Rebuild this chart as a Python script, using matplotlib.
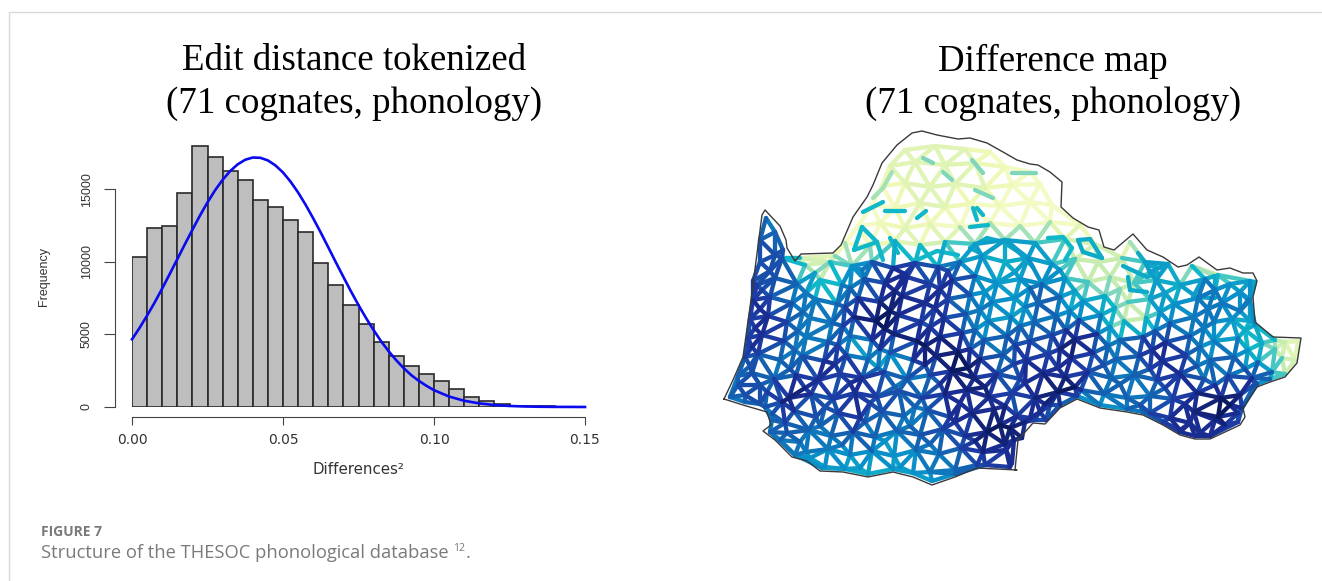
import numpy as np
import matplotlib
matplotlib.use("Agg")
import matplotlib.pyplot as plt
import matplotlib.tri as mtri
from matplotlib.collections import LineCollection
from matplotlib.colors import LinearSegmentedColormap
from matplotlib.path import Path

# histogram
bin_edges = [i * 0.005 for i in range(29)]
bin_counts = [10314, 12335, 12450, 14724, 17985, 17228, 16286, 15666, 14242, 13760,
              12910, 12037, 9923, 8384, 7006, 5743, 4502, 3492, 2848, 2297,
              1815, 1217, 712, 436, 230, 92, 60, 40]

# blue curve
curve_x = [0, .0025, .005, .0075, .01, .0125, .015, .0175, .02, .0225, .025, .0275, .03, .0325, .035, .0375,
           .04, .0425, .045, .0475, .05, .0525, .055, .0575, .06, .0625, .065, .0675, .07, .0725,
           .075, .0775, .08, .0825, .085, .0875, .09, .0925, .095, .0975, .10, .105, .11, .115, .12,
           .125, .13, .135, .14, .15]
curve_y = [4660, 5450, 6300, 7200, 8165, 9170, 10184, 11210, 12210, 13190, 14100, 14930, 15650, 16255, 16720, 17037,
           17190, 17170, 16990, 16645, 16160, 15530, 14780, 13930, 13000, 12020, 11000, 9970, 8960, 7970,
           7020, 6130, 5300, 4525, 3840, 3220, 2670, 2190, 1800, 1460, 1160, 720, 430, 250, 136,
           72, 36, 17, 8, 1]

# map outline
outline_x = [724, 733, 743, 751, 762, 765, 780, 786, 787, 795, 801, 833, 841, 853, 867, 873, 882, 897,
             912, 922, 937, 958, 970, 987, 1003, 1017, 1030, 1038, 1050, 1062, 1061, 1073, 1088, 1099,
             1104, 1114, 1133, 1147, 1163, 1178, 1187, 1199, 1217, 1230, 1243, 1253, 1257, 1253, 1255,
             1273, 1301, 1297, 1285, 1270, 1257, 1243, 1245, 1240, 1210, 1195, 1180, 1163, 1143, 1127,
             1100, 1077, 1060, 1045, 1033, 1018, 1015, 1017, 977, 955, 932, 913, 893, 868, 843, 820,
             807, 792, 775, 763, 771, 767, 743, 724]
outline_y = [399, 380, 357, 300, 215, 210, 226, 240, 248, 261, 254, 253, 245, 217, 197, 185, 163, 145,
             133, 131, 135, 139, 138, 143, 152, 160, 164, 165, 172, 182, 207, 218, 227, 230,
             247, 250, 234, 250, 257, 267, 265, 257, 270, 268, 273, 273, 281, 297, 322,
             337, 338, 363, 377, 382, 387, 408, 417, 425, 439, 439, 435, 425, 415, 412,
             408, 399, 408, 424, 423, 440, 470, 470, 468, 477, 485, 477, 472, 477, 472, 471,
             461, 457, 440, 431, 425, 412, 405, 399]

# network stations, row by row
row_x = [
    [905, 935, 965, 990],
    [890, 915, 945, 975, 1005, 1030],
    [882, 905, 930, 955, 985, 1012, 1040],
    [872, 895, 920, 945, 970, 1000, 1030, 1052],
    [858, 880, 905, 930, 960, 990, 1020, 1050, 1080],
    [845, 870, 895, 920, 945, 975, 1005, 1035, 1065, 1095, 1130],
    [760, 782, 805, 830, 852, 872, 893, 915, 938, 960, 982, 1005, 1028, 1052, 1075, 1098, 1122, 1145, 1168, 1192, 1218],
    [753, 775, 797, 820, 842, 864, 885, 907, 930, 952, 975, 997, 1020, 1042, 1065, 1088, 1110, 1134, 1156, 1180, 1205, 1230, 1250],
    [753, 770, 792, 815, 837, 858, 880, 902, 925, 948, 970, 992, 1015, 1038, 1060, 1083, 1105, 1128, 1150, 1174, 1198, 1222, 1248],
    [750, 768, 787, 810, 832, 854, 876, 898, 921, 944, 966, 988, 1011, 1034, 1056, 1079, 1101, 1124, 1146, 1170, 1194, 1214, 1232, 1250],
    [748, 762, 784, 806, 828, 850, 872, 894, 917, 940, 962, 984, 1007, 1030, 1052, 1075, 1097, 1120, 1143, 1166, 1190, 1214, 1238, 1262, 1285],
    [745, 758, 780, 802, 824, 846, 868, 890, 913, 936, 958, 980, 1003, 1026, 1048, 1071, 1093, 1116, 1139, 1162, 1186, 1210, 1234, 1258, 1282],
    [738, 752, 774, 796, 818, 840, 862, 884, 907, 930, 952, 974, 997, 1020, 1043, 1065, 1088, 1111, 1134, 1157, 1180, 1204, 1228, 1252, 1272],
    [745, 767, 789, 811, 833, 855, 877, 899, 922, 945, 967, 989, 1012, 1035, 1058, 1081, 1104, 1127, 1150, 1173, 1197, 1221, 1240],
    [772, 794, 816, 838, 860, 882, 904, 927, 950, 972, 994, 1017, 1040, 1050, 1150, 1170, 1194, 1218, 1238],
    [787, 809, 831, 853, 875, 897, 920, 943, 965, 987, 1010, 1030, 1180, 1200, 1225],
    [806, 828, 850, 872, 894, 916, 939, 961, 983, 1006],
    [825, 860, 900, 930, 955, 985, 1012],
    # in-between stations
    [770, 815, 862, 905, 948, 1015, 1060, 1150, 1215],
    [762, 806, 850, 895, 940, 985, 1030, 1075, 1120, 1165, 1215, 1240],
    [760, 803, 845, 890, 935, 980, 1025, 1070, 1115, 1160, 1208, 1240],
    [755, 798, 843, 885, 930, 975, 1020, 1066, 1110, 1155, 1204, 1245],
    [752, 795, 838, 880, 925, 970, 1015, 1060, 1108, 1152, 1200, 1248, 1275],
    [750, 790, 835, 878, 925, 968, 1014, 1058, 1104, 1150, 1197, 1245],
    [760, 805, 850, 895, 940, 985, 1025, 1075, 1120, 1165, 1215, 1255],
    [760, 782, 825, 870, 915, 960, 1005, 1045, 1140, 1185, 1230],
    [785, 820, 865, 910, 955, 1000, 1025, 1190, 1215],
    [800, 842, 885, 930, 975, 1005],
    # stations along the border
    [730, 745, 765, 772, 770, 780, 795, 810, 822, 845, 868, 893, 913, 932, 955, 977, 1010, 1014, 1022, 1034, 1046, 1060,
     1077, 1100, 1127, 1143, 1163, 1180, 1195, 1210, 1238, 1242, 1257, 1270, 1285, 1295, 1298, 1275, 1255, 1250, 1255,
     738, 748, 757, 760, 766, 775, 783, 775, 800, 835],
]
row_y = [
    [150, 146, 149, 152],
    [166, 162, 165, 163, 167, 172],
    [186, 183, 187, 184, 188, 185, 184],
    [205, 208, 203, 207, 204, 206, 202, 205],
    [226, 223, 228, 224, 227, 223, 226, 222, 225],
    [243, 246, 241, 245, 242, 244, 240, 243, 239, 244, 242],
    [262, 258, 265, 262, 266, 262, 268, 263, 267, 262, 256, 262, 258, 264, 259, 262, 258, 262, 264, 266, 275],
    [281, 278, 284, 280, 285, 279, 283, 277, 284, 280, 276, 283, 279, 284, 278, 282, 277, 283, 280, 285, 279, 284, 281],
    [300, 297, 303, 299, 304, 298, 302, 296, 303, 299, 295, 302, 298, 303, 297, 301, 296, 302, 299, 304, 298, 303, 300],
    [319, 316, 322, 318, 323, 317, 321, 315, 322, 318, 314, 321, 317, 322, 316, 320, 315, 321, 318, 323, 317, 322, 319, 321],
    [338, 335, 341, 337, 342, 336, 340, 334, 341, 337, 333, 340, 336, 341, 335, 339, 334, 340, 337, 342, 336, 341, 338, 343, 342],
    [357, 354, 360, 356, 361, 355, 359, 353, 360, 356, 352, 359, 355, 360, 354, 358, 353, 359, 356, 361, 355, 360, 357, 362, 358],
    [376, 373, 379, 375, 380, 374, 378, 372, 379, 375, 371, 378, 374, 379, 373, 377, 372, 378, 375, 380, 374, 379, 376, 378, 372],
    [395, 392, 398, 394, 399, 393, 397, 391, 398, 394, 390, 397, 393, 398, 392, 390, 394, 398, 396, 399, 393, 398, 395],
    [414, 411, 417, 413, 418, 412, 416, 410, 417, 413, 409, 416, 412, 405, 413, 418, 412, 417, 413],
    [433, 430, 436, 432, 437, 431, 435, 429, 436, 432, 428, 418, 430, 433, 425],
    [452, 449, 455, 451, 456, 450, 454, 448, 452, 450],
    [467, 468, 467, 472, 470, 465, 463],
    [271, 273, 270, 274, 271, 272, 270, 272, 276],
    [290, 293, 288, 291, 289, 292, 288, 291, 289, 293, 290, 292],
    [309, 312, 307, 311, 308, 310, 307, 311, 308, 312, 309, 311],
    [328, 331, 326, 329, 327, 330, 326, 330, 327, 331, 328, 330],
    [347, 350, 345, 349, 346, 349, 345, 349, 346, 350, 347, 350, 349],
    [366, 369, 364, 368, 365, 368, 364, 368, 365, 369, 366, 369],
    [385, 388, 383, 387, 384, 387, 383, 387, 384, 388, 385, 384],
    [404, 402, 407, 403, 407, 403, 406, 404, 405, 404, 405],
    [423, 426, 422, 426, 422, 425, 422, 423, 420],
    [442, 445, 441, 444, 441, 444],
    [397, 402, 407, 420, 432, 440, 455, 458, 468, 469, 474, 469, 473, 481, 474, 465, 467, 440, 438, 420, 420, 405,
     396, 405, 409, 412, 422, 432, 436, 436, 422, 408, 384, 379, 374, 360, 341, 340, 325, 300, 282,
     385, 345, 285, 240, 218, 232, 250, 255, 258, 256],
]
# shade of each station, 0 pale to 10 navy
row_v = [
    [2, 2, 2, 1],
    [2, 2, 2, 2, 1, 1],
    [1, 2, 2, 2, 2, 1, 1],
    [1, 1, 2, 2, 1, 1, 1, 1],
    [1, 1, 2, 1, 1, 1, 1, 1, 1],
    [1, 1, 2, 2, 3, 6, 6, 6, 3, 2, 1],
    [8, 8, 2, 3, 6, 7, 9, 8, 8, 6, 6, 5, 6, 6, 3, 3, 3, 6, 6, 3, 3],
    [8, 8, 7, 3, 7, 7, 9, 9, 8, 9, 7, 6, 6, 7, 6, 3, 3, 3, 6, 5, 7, 6, 6],
    [9, 8, 7, 7, 7, 8, 9, 9, 9, 8, 7, 7, 6, 8, 7, 6, 5, 3, 6, 6, 7, 7, 7],
    [8, 9, 8, 7, 7, 9, 10, 9, 8, 9, 7, 6, 6, 7, 7, 7, 6, 3, 3, 7, 7, 7, 6, 5],
    [8, 9, 8, 7, 7, 6, 8, 9, 10, 9, 8, 7, 8, 8, 8, 10, 8, 7, 8, 9, 7, 6, 6, 5, 2],
    [8, 8, 7, 7, 9, 8, 6, 6, 8, 9, 10, 9, 7, 9, 8, 9, 8, 7, 8, 9, 8, 7, 8, 6, 3],
    [7, 8, 7, 8, 9, 8, 9, 8, 7, 7, 10, 9, 8, 8, 9, 9, 8, 7, 7, 8, 9, 7, 7, 9, 6],
    [8, 8, 10, 8, 8, 9, 8, 8, 8, 9, 9, 9, 8, 9, 10, 8, 7, 7, 7, 8, 9, 10, 9],
    [7, 8, 8, 8, 9, 8, 7, 7, 9, 9, 9, 8, 9, 8, 8, 9, 9, 10, 8],
    [8, 7, 7, 8, 7, 7, 8, 8, 8, 10, 10, 9, 9, 9, 9],
    [7, 7, 6, 7, 6, 7, 7, 8, 9, 9],
    [6, 6, 6, 7, 7, 8, 9],
    [8, 5, 7, 9, 8, 6, 6, 6, 4],
    [8, 7, 7, 9, 9, 6, 7, 5, 3, 6, 7, 6],
    [9, 7, 8, 10, 9, 7, 6, 6, 5, 6, 7, 7],
    [9, 7, 8, 10, 8, 7, 7, 8, 5, 7, 7, 5],
    [9, 7, 8, 8, 10, 8, 8, 9, 7, 9, 7, 5, 3],
    [8, 8, 9, 6, 9, 10, 8, 9, 8, 8, 7, 7],
    [8, 9, 9, 7, 8, 10, 9, 10, 8, 8, 8, 7],
    [8, 9, 8, 8, 7, 9, 9, 9, 8, 9, 10],
    [8, 7, 7, 7, 9, 10, 9, 9, 9],
    [7, 7, 6, 7, 9, 9],
    [7, 7, 7, 7, 7, 7, 7, 6, 6, 6, 5, 6, 6, 6, 7, 8, 9, 9, 9, 8, 8, 8,
     7, 6, 7, 7, 8, 9, 9, 9, 8, 8, 7, 6, 3, 2, 2, 4, 6, 7, 5,
     8, 8, 8, 8, 7, 7, 8, 8, 2, 2],
]

# stronger links standing out of the pale north
link_x = [[863, 883], [885, 905], [917, 926], [970, 988], [973, 977], [977, 983],
          [877, 854, 862, 877, 883], [890, 898], [923, 933], [943, 952], [972, 983], [975, 993],
          [892, 883, 873], [1012, 1036], [917, 937, 958], [970, 987, 1003, 1020], [970, 980],
          [1010, 1033], [1048, 1063, 1072, 1065], [1078, 1090, 1102, 1083, 1078],
          [1138, 1147, 1160], [1123, 1147, 1158], [1128, 1130, 1147], [1202, 1193, 1215]]
link_y = [[212, 202], [211, 211], [218, 211], [227, 225], [208, 220], [208, 215],
          [242, 250, 227, 242, 260], [238, 253], [158, 163], [172, 180], [160, 173], [190, 198],
          [172, 188, 198], [173, 173], [260, 251, 255], [248, 238, 242, 253], [248, 253],
          [243, 267], [238, 237, 248, 260], [240, 239, 258, 252, 240],
          [253, 265, 268], [266, 277, 273], [277, 290, 292], [280, 297, 298]]
link_v = [5, 5, 5, 5, 5, 5, 5, 5, 4, 4, 4, 4, 3.5, 4, 5, 5.5, 5.5, 6, 5, 5.5, 5.5, 5.5, 5.5, 6]

fig = plt.figure(figsize=(13.22, 5.81), dpi=100)

# whole figure axes in pixels for frame, texts and map
bg = fig.add_axes([0, 0, 1, 1])
bg.set_xlim(0, 1322)
bg.set_ylim(581, 0)
bg.axis("off")

bg.plot([9, 9, 1322], [581, 12, 12], color="#d9d9d9", lw=1)

serif = "Liberation Serif"
bg.text(354, 61, "Edit distance tokenized", family=serif, fontsize=26.6, ha="center", va="center", color="black")
bg.text(354, 104, "(71 cognates, phonology)", family=serif, fontsize=26.6, ha="center", va="center", color="black")
bg.text(1053, 61, "Difference map", family=serif, fontsize=26.6, ha="center", va="center", color="black")
bg.text(1053, 104, "(71 cognates, phonology)", family=serif, fontsize=26.6, ha="center", va="center", color="black")

bg.text(41, 532, "FIGURE 7", family="Open Sans", weight="bold", fontsize=10, ha="left", va="center", color="#7a7a7a")
bg.text(41, 558, "Structure of the THESOC phonological database", family="Open Sans", fontsize=13.2,
        ha="left", va="baseline", color="#7a7a7a")
bg.text(453, 551, "12", family="Open Sans", fontsize=7.5, ha="left", va="baseline", color="#7a7a7a")
bg.text(466, 558, ".", family="Open Sans", fontsize=13.2, ha="left", va="baseline", color="#7a7a7a")

# map network
node_x = np.array(sum(row_x, []), dtype=float)
node_y = np.array(sum(row_y, []), dtype=float)
node_v = np.array(sum(row_v, []), dtype=float)

border = Path(np.column_stack([outline_x, outline_y]))
tri = mtri.Triangulation(node_x, node_y)

segs = []
vals = []
for a, b in tri.edges:
    p, q = (node_x[a], node_y[a]), (node_x[b], node_y[b])
    if np.hypot(p[0] - q[0], p[1] - q[1]) > 36:
        continue
    if not border.contains_point(((p[0] + q[0]) / 2, (p[1] + q[1]) / 2)):
        continue
    segs.append([p, q])
    vals.append((node_v[a] + node_v[b]) / 20)

for xs, ys, v in zip(link_x, link_y, link_v):
    for i in range(len(xs) - 1):
        segs.append([(xs[i], ys[i]), (xs[i + 1], ys[i + 1])])
        vals.append(v / 10)

# dark links go on top of the pale ones
order = np.argsort(vals)
segs = [segs[i] for i in order]
vals = np.array(vals)[order]

map_cmap = LinearSegmentedColormap.from_list(
    "map", [(0, "#fbfdd8"), (0.15, "#eef9b8"), (0.3, "#c5ecb0"), (0.4, "#7fd6bc"), (0.5, "#10b8c8"),
            (0.65, "#0a90c8"), (0.75, "#1462b2"), (0.875, "#1e32a0"), (1, "#0a1a60")])
lines = LineCollection(segs, cmap=map_cmap, norm=plt.Normalize(0, 1), linewidths=3.1, capstyle="round")
lines.set_array(vals)
bg.add_collection(lines)
bg.plot(outline_x, outline_y, color="#3a3a3a", lw=1)

# histogram axes, R style detached axis lines
ax = fig.add_axes([132 / 1322, 1 - 407 / 581, 453 / 1322, (407 - 138) / 581])
ax.patch.set_alpha(0)
ax.set_xlim(0, 0.15)
ax.set_ylim(0, 269 / 217.7 * 15000)
ax.bar(bin_edges[:-1], bin_counts, width=0.005, align="edge", color="#bebebe", edgecolor="#2a2a2a", linewidth=1.2)
ax.plot(curve_x, curve_y, color="#0a0af0", lw=1.9, clip_on=False)

for s in ["top", "right"]:
    ax.spines[s].set_visible(False)
ax.spines["bottom"].set_position(("outward", 7.2))
ax.spines["left"].set_position(("outward", 12.2))
ax.spines["bottom"].set_bounds(0, 0.15)
ax.spines["left"].set_bounds(0, 15000)
ax.spines["bottom"].set_color("#444444")
ax.spines["left"].set_color("#444444")

ax.set_xticks([0, 0.05, 0.10, 0.15])
ax.set_xticklabels(["0.00", "0.05", "0.10", "0.15"], family="DejaVu Sans", fontsize=10, color="#333333")
ax.set_yticks([0, 5000, 10000, 15000])
ax.set_yticklabels(["0", "5000", "10000", "15000"], family="Liberation Sans", fontsize=9, color="#333333",
                   rotation=90, va="center")
ax.tick_params(axis="x", length=5.8, color="#444444", pad=6)
ax.tick_params(axis="y", length=8, color="#444444", pad=8)

bg.text(358, 470, "Differences\u00b2", family="DejaVu Sans", fontsize=10.8, ha="center", va="center", color="#333333")
bg.text(44, 276, "Frequency", family="Liberation Sans", fontsize=9, rotation=90, ha="center", va="center", color="#333333")

fig.savefig("out.png", dpi=100)
